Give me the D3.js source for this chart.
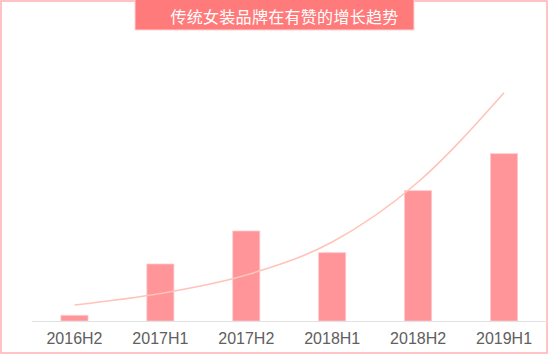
<!DOCTYPE html>
<html>
<head>
<meta charset="utf-8">
<script src="https://cdn.jsdelivr.net/npm/d3@7"></script>
<style>
  body { margin: 0; background: #fff; }
</style>
</head>
<body>
<div id="chart"></div>
<script>
const title = '传统女装品牌在有赞的增长趋势'
const categories = ['2016H2', '2017H1', '2017H2', '2018H1', '2018H2', '2019H1']
const growth = [5.7, 57, 90, 68.3, 130.3, 167.3]
const trend = [16, 27.5, 46, 79, 139, 228.3]

const width = 549
const height = 355
const baseY = 321

const svg = d3.select('#chart').append('svg')
  .attr('width', width)
  .attr('height', height)

// frame
svg.append('rect')
  .attr('x', 1).attr('y', 1)
  .attr('width', 546).attr('height', 352)
  .attr('fill', 'none')
  .attr('stroke', '#ffb0b4')
  .attr('stroke-width', 1.5)

const x = d3.scaleBand()
  .domain(categories)
  .range([31.5, 547])
  .paddingInner(0.685)
  .paddingOuter(0.3425)

const y = d3.scaleLinear()
  .domain([0, 240])
  .range([baseY, baseY - 240])

// bars
svg.append('g').selectAll('rect')
  .data(growth)
  .enter().append('rect')
  .attr('x', (d, i) => x(categories[i]))
  .attr('y', d => y(d))
  .attr('width', x.bandwidth())
  .attr('height', d => baseY - y(d))
  .attr('fill', '#ff9499')
  .attr('stroke', '#ffc9cc')
  .attr('stroke-width', 0.8)

// trend line
const line = d3.line()
  .x((d, i) => x(categories[i]) + x.bandwidth() / 2)
  .y(d => y(d))
  .curve(d3.curveMonotoneX)

svg.append('path')
  .datum(trend)
  .attr('d', line)
  .attr('fill', 'none')
  .attr('stroke', '#ffc3b8')
  .attr('stroke-width', 1.6)

// x axis
const axis = svg.append('g')
  .attr('transform', 'translate(0,' + baseY + ')')
  .call(d3.axisBottom(x).tickSize(0).tickPadding(12))
axis.select('.domain').attr('stroke', '#e2e2e2').attr('stroke-width', 1.2)
axis.selectAll('text')
  .attr('font-family', '"Liberation Sans", Arial, sans-serif')
  .attr('font-size', 16)
  .attr('fill', '#606060')

// title banner
svg.append('rect')
  .attr('x', 135).attr('y', -1)
  .attr('width', 279).attr('height', 31)
  .attr('fill', '#ff7b7b')
  .attr('stroke', '#ffd3d3')
  .attr('stroke-width', 1)

svg.append('text')
  .attr('x', 284.5)
  .attr('y', 15.5)
  .attr('text-anchor', 'middle')
  .attr('dominant-baseline', 'central')
  .attr('font-family', '"Noto Sans CJK SC", sans-serif')
  .attr('font-size', 16)
  .attr('letter-spacing', 0.3)
  .attr('fill', '#fff')
  .text(title)
</script>
</body>
</html>
